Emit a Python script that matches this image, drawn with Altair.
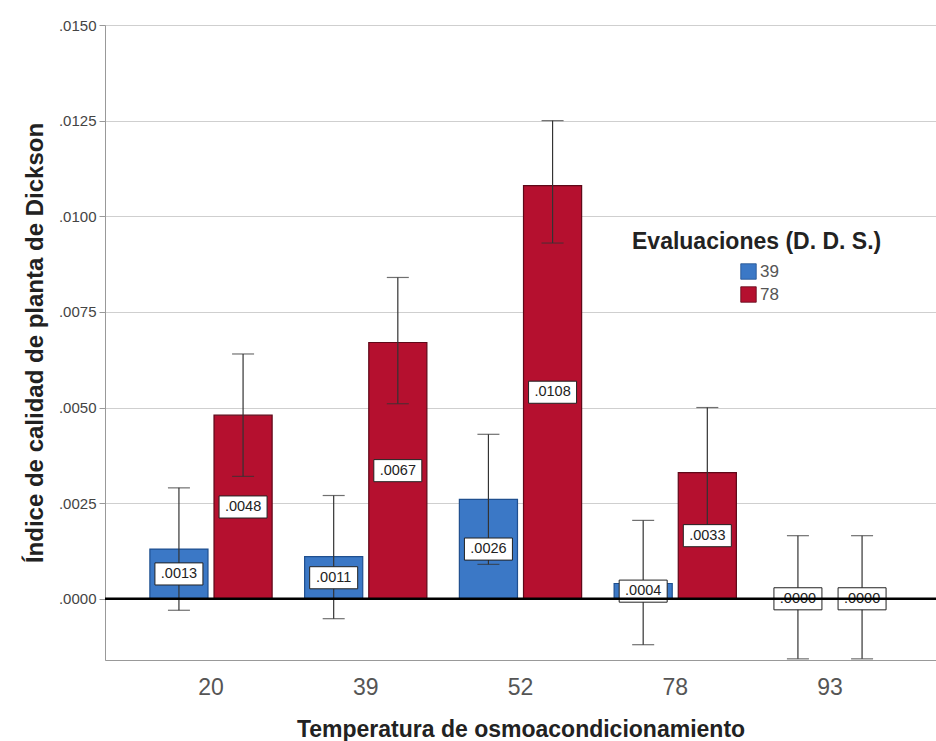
import altair as alt
import pandas as pd

temps = ["20", "39", "52", "78", "93"]
groups = ["39", "78"]
mean39 = [0.0013, 0.0011, 0.0026, 0.0004, 0.0000]
mean78 = [0.0048, 0.0067, 0.0108, 0.0033, 0.0000]
lo39 = [-0.0003, -0.00052, 0.0009, -0.0012, -0.00157]
hi39 = [0.0029, 0.0027, 0.0043, 0.00205, 0.00165]
lo78 = [0.0032, 0.0051, 0.0093, 0.0016, -0.00157]
hi78 = [0.0064, 0.0084, 0.0125, 0.0050, 0.00165]
y_ticks = [0.0, 0.0025, 0.005, 0.0075, 0.01, 0.0125, 0.015]

rows = []
for i, t in enumerate(temps):
    rows.append({"temp": t, "grp": "39", "mean": mean39[i], "lo": lo39[i], "hi": hi39[i]})
    rows.append({"temp": t, "grp": "78", "mean": mean78[i], "lo": lo78[i], "hi": hi78[i]})
df = pd.DataFrame(rows)
df["mid"] = df["mean"] / 2
df["lab"] = df["mean"].map(lambda v: ("%.4f" % v)[1:])

FONT = "Liberation Sans"

xenc = alt.X("temp:N", sort=temps,
             scale=alt.Scale(paddingInner=0.21, paddingOuter=0.29),
             axis=alt.Axis(title="Temperatura de osmoacondicionamiento", labelAngle=0,
                           labelFontSize=23, labelColor="#555", labelFont=FONT,
                           ticks=False, labelPadding=16, domainColor="#999",
                           titleFontSize=23, titleFont=FONT, titleFontWeight="bold",
                           titleColor="#222", titlePadding=19))
xoff = alt.XOffset("grp:N", sort=groups, scale=alt.Scale(paddingInner=0.094))
yscale = alt.Scale(domain=[-0.0016, 0.015], nice=False, zero=False)

base = alt.Chart(df)

bars = base.mark_bar(strokeWidth=1.2).encode(
    x=xenc, xOffset=xoff,
    y=alt.Y("mean:Q", scale=yscale,
            axis=alt.Axis(title="Índice de calidad de planta de Dickson", values=y_ticks,
                          labelExpr="substring(format(datum.value, '.4f'), 1)",
                          labelFontSize=15, labelColor="#444", labelFont=FONT,
                          tickColor="#999", tickSize=6, domainColor="#999",
                          gridColor="#cfcfcf", labelPadding=3,
                          titleFontSize=24, titleFont=FONT, titleFontWeight="bold",
                          titleColor="#222", titlePadding=11)),
    y2=alt.datum(0),
    color=alt.Color("grp:N", sort=groups,
                    scale=alt.Scale(domain=groups, range=["#3b78c6", "#b5102f"]),
                    legend=alt.Legend(title="Evaluaciones (D. D. S.)", orient="none",
                                      legendX=527, legendY=206, symbolType="square",
                                      symbolSize=240, symbolStrokeColor="#333",
                                      symbolStrokeWidth=0.8, symbolOffset=108,
                                      labelFontSize=17, labelColor="#555", labelFont=FONT,
                                      labelOffset=3,
                                      titleFontSize=23, titleFont=FONT, titleColor="#222",
                                      titleFontWeight="bold", titleLimit=400,
                                      titlePadding=9, rowPadding=4)),
    stroke=alt.Stroke("grp:N", sort=groups,
                      scale=alt.Scale(domain=groups, range=["#1f4f8f", "#5e0818"]),
                      legend=None),
)

err = base.mark_rule(color="#333", strokeWidth=1.2).encode(
    x=alt.X("temp:N", sort=temps), xOffset=xoff, y="lo:Q", y2="hi:Q")
cap_hi = base.mark_tick(color="#333", thickness=1.2, size=22).encode(
    x=alt.X("temp:N", sort=temps), xOffset=xoff, y="hi:Q")
cap_lo = base.mark_tick(color="#333", thickness=1.2, size=22).encode(
    x=alt.X("temp:N", sort=temps), xOffset=xoff, y="lo:Q")

boxes = base.mark_point(
    shape="M-1,-0.46L1,-0.46L1,0.46L-1,0.46Z", size=2304, filled=True,
    fill="white", stroke="#222", strokeWidth=1, opacity=1).encode(
    x=alt.X("temp:N", sort=temps), xOffset=xoff, y="mid:Q")
texts = base.mark_text(fontSize=14.5, font=FONT, color="#222").encode(
    x=alt.X("temp:N", sort=temps), xOffset=xoff, y="mid:Q", text="lab:N")

zero = alt.Chart(pd.DataFrame({"v": [0.0]})).mark_rule(color="black", strokeWidth=2.5).encode(
    y=alt.Y("v:Q"))

chart = alt.layer(bars, err, cap_hi, cap_lo, boxes, texts, zero).properties(
    width=831, height=635,
    autosize=alt.AutoSizeParams(type="none"),
    padding={"left": 105, "top": 25, "right": 0, "bottom": 81},
).configure_view(stroke=None).configure(background="white")

chart.save("out.html", embed_options={"renderer": "svg", "actions": False})
